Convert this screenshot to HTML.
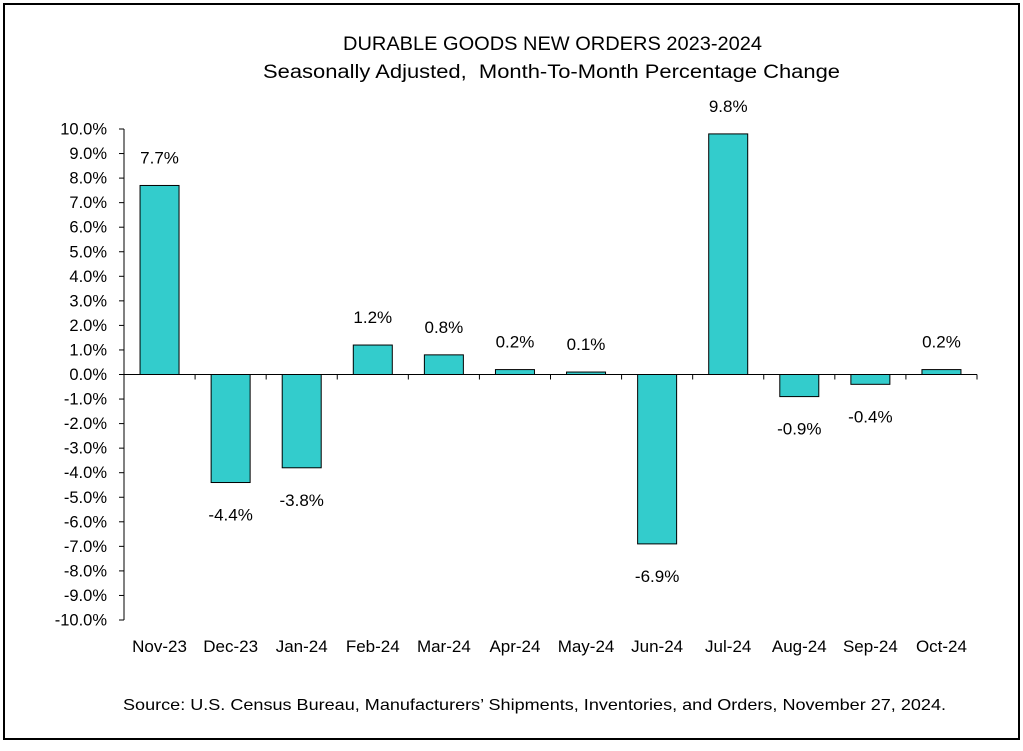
<!DOCTYPE html>
<html><head><meta charset="utf-8"><style>
html,body{margin:0;padding:0;background:#fff;}
svg{display:block;font-family:"Liberation Sans",Calibri,sans-serif;}
</style></head><body>
<svg id="chart" width="1023" height="751" xmlns="http://www.w3.org/2000/svg">
<rect x="4" y="4" width="1015" height="735" fill="#fff" stroke="#000" stroke-width="2"/>
<text x="343" y="50" font-size="19" textLength="419" lengthAdjust="spacingAndGlyphs">DURABLE GOODS NEW ORDERS 2023-2024</text>
<text x="263" y="78" font-size="19" textLength="577" lengthAdjust="spacingAndGlyphs" xml:space="preserve">Seasonally Adjusted,  Month-To-Month Percentage Change</text>
<g id="plot"></g>
<text x="123" y="710" font-size="16" textLength="823" lengthAdjust="spacingAndGlyphs">Source: U.S. Census Bureau, Manufacturers’ Shipments, Inventories, and Orders, November 27, 2024.</text>
</svg>
<script>
const categories=["Nov-23","Dec-23","Jan-24","Feb-24","Mar-24","Apr-24","May-24","Jun-24","Jul-24","Aug-24","Sep-24","Oct-24"];
const values=[7.7,-4.4,-3.8,1.2,0.8,0.2,0.1,-6.9,9.8,-0.9,-0.4,0.2];
const yTicks=[10,9,8,7,6,5,4,3,2,1,0,-1,-2,-3,-4,-5,-6,-7,-8,-9,-10];
const NS="http://www.w3.org/2000/svg";
const g=document.getElementById('plot');
const x0=124,x1=977,yTop=129,yBot=620;
const y=v=>yTop+(10-v)*(yBot-yTop)/20;
const bw=(x1-x0)/categories.length;
const xc=i=>x0+(i+0.5)*bw;
function mk(t,a){const e=document.createElementNS(NS,t);for(const k in a)e.setAttribute(k,a[k]);g.appendChild(e);return e;}
let ax=mk('line',{x1:x0,y1:yTop,x2:x0,y2:yBot,stroke:'#000','stroke-width':1});


yTicks.forEach(v=>{
 const t=mk('line',{x1:x0-5,y1:y(v),x2:x0,y2:y(v),stroke:'#000'});
 
 
 const l=mk('text',{x:x0-17,y:y(v)+5.5,'font-size':16.5,'text-anchor':'end'});
 l.textContent=v.toFixed(1)+'%';
 
 
});
values.forEach((v,i)=>{
 const top=Math.min(y(v),y(0)),h=Math.abs(y(v)-y(0));
 const b=mk('rect',{x:xc(i)-19.5,y:top,width:39,height:h,fill:'#33CCCC',stroke:'#000','stroke-width':1});
 
 
 const ly=v>=0?y(v)-22:y(v)+38;
 const l=mk('text',{x:xc(i),y:ly,'font-size':17,'text-anchor':'middle'});
 l.textContent=v.toFixed(1)+'%';
 
 
 const c=mk('text',{x:xc(i),y:652,'font-size':17,'text-anchor':'middle'});
 c.textContent=categories[i];
 
 
});
for(let i=0;i<=categories.length;i++){
 const t=mk('line',{x1:x0+i*bw,y1:y(0),x2:x0+i*bw,y2:y(0)+5,stroke:'#000'});
 
 
}
let xa=mk('line',{x1:x0,y1:y(0),x2:x1,y2:y(0),stroke:'#000'});


</script>
</body></html>
